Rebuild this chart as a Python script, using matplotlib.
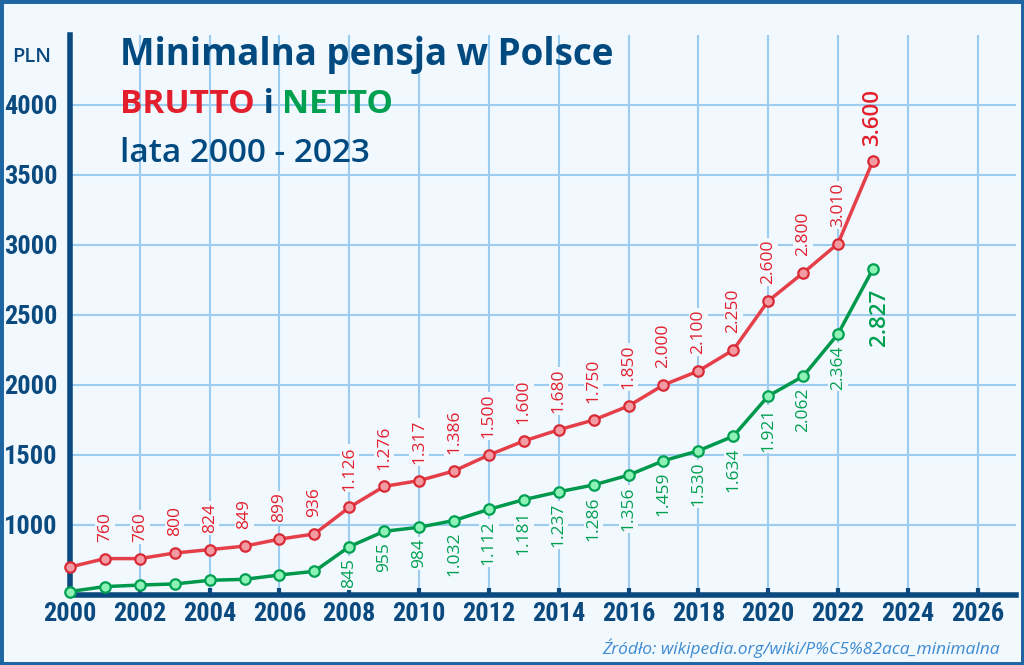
import matplotlib
matplotlib.use("Agg")
import matplotlib.pyplot as plt
from matplotlib import font_manager
from matplotlib.patches import Rectangle

years = list(range(2000, 2024))
brutto = [700, 760, 760, 800, 824, 849, 899, 936, 1126, 1276, 1317, 1386,
          1500, 1600, 1680, 1750, 1850, 2000, 2100, 2250, 2600, 2800, 3010, 3600]
# 2000-2007 netto values (no labels)
netto = [525, 560, 571, 579, 605, 612, 643, 669, 845, 955, 984, 1032,
         1112, 1181, 1237, 1286, 1356, 1459, 1530, 1634, 1921, 2062, 2364, 2827]
xticks = list(range(2000, 2027, 2))
yticks = [1000, 1500, 2000, 2500, 3000, 3500, 4000]

BG = "#F1F8FE"
NAVY = "#0B4A7E"
GRID = "#9CCCF0"
RED = "#E5404A"
GREEN = "#00994C"
SANS = ["Open Sans", "DejaVu Sans"]

# pick a narrow font for tick labels if there is one
fonts = font_manager.fontManager.ttflist
names = {f.name for f in fonts}
tick_font = dict(family=["Roboto", "DejaVu Sans"], weight="bold", fontsize=16)
if "Liberation Sans Narrow" in names:
    tick_font = dict(family=["Liberation Sans Narrow"], weight="bold", fontsize=19)
elif "Roboto Condensed" in names:
    tick_font = dict(family=["Roboto Condensed"], weight="bold", fontsize=19)
elif any(f.name == "DejaVu Sans" and f.stretch == "condensed" for f in fonts):
    tick_font = dict(family=["DejaVu Sans"], stretch="condensed", weight="bold",
                     fontsize=17)


def fmt(v):
    return f"{v:,}".replace(",", ".")


fig = plt.figure(figsize=(10.24, 6.65), dpi=100, facecolor=BG)
ax = fig.add_axes([70 / 1024, 1 - 595 / 665, (1016 - 70) / 1024, (595 - 35) / 665])
ax.set_facecolor(BG)
ax.set_xlim(2000, 2027.1)
ax.set_ylim(500, 4500)

ax.set_xticks(xticks)
ax.set_yticks(yticks)
ax.set_xticklabels([str(x) for x in xticks], color=NAVY, **tick_font)
ax.set_yticklabels([str(y) for y in yticks], color=NAVY, **tick_font)
ax.tick_params(axis="x", direction="in", length=5, width=3, color=NAVY, pad=5)
ax.tick_params(axis="y", length=0, pad=9)
ax.grid(True, color=GRID, linewidth=1.5, zorder=0)
ax.set_axisbelow(True)

for side in ["top", "right"]:
    ax.spines[side].set_visible(False)
for side in ["left", "bottom"]:
    ax.spines[side].set_color(NAVY)
    ax.spines[side].set_linewidth(4)

ax.plot(years, brutto, color=RED, linewidth=2.5, marker="o", markersize=7.5,
        markerfacecolor="#F29BA3", markeredgecolor="#D92B36", markeredgewidth=1.6,
        zorder=4, clip_on=False)
ax.plot(years, netto, color=GREEN, linewidth=2.5, marker="o", markersize=7.5,
        markerfacecolor="#8EF2B6", markeredgecolor="#00A052", markeredgewidth=1.6,
        zorder=4, clip_on=False)

# labels sit under the lines but above the grid, with a bg box that cuts the grid
box = dict(boxstyle="square,pad=0.1", fc=BG, ec="none")
for x, v in zip(years, brutto):
    if x == 2000:
        continue
    if x == 2023:
        ax.annotate(fmt(v), (x, v), xytext=(0, 11), textcoords="offset points",
                    rotation=90, ha="center", va="bottom", color="#E3202D",
                    fontsize=16, weight="semibold", family=SANS, zorder=3)
    else:
        ax.annotate(fmt(v), (x, v), xytext=(0, 12), textcoords="offset points",
                    rotation=90, ha="center", va="bottom", color="#E3202D",
                    fontsize=12.5, family=SANS, bbox=box, zorder=3)

for x, v in zip(years, netto):
    if x < 2008:
        continue
    if x == 2023:
        ax.annotate(fmt(v), (x, v), xytext=(5, -14), textcoords="offset points",
                    rotation=90, ha="center", va="top", color="#00A050",
                    fontsize=16, weight="semibold", family=SANS, zorder=3)
    else:
        ax.annotate(fmt(v), (x, v), xytext=(0, -8), textcoords="offset points",
                    rotation=90, ha="center", va="top", color="#00A050",
                    fontsize=12.5, family=SANS, bbox=box, zorder=3)

# title block
fig.text(120 / 1024, 1 - 65 / 665, "Minimalna pensja w Polsce", family=SANS,
         weight="bold", fontsize=26.5, color="#004A80", va="baseline")
fig.canvas.draw()
r = fig.canvas.get_renderer()
x0 = 120
parts = [("BRUTTO", "#E31E2D"), (" i ", "#004A80"), ("NETTO", "#00A050")]
for txt, col in parts:
    t = fig.text(x0 / 1024, 1 - 113 / 665, txt, family=SANS, weight="bold",
                 fontsize=24, color=col, va="baseline")
    x0 += t.get_window_extent(r).width
fig.text(120 / 1024, 1 - 162 / 665, "lata 2000 - 2023", family=SANS,
         weight="semibold", fontsize=24, color="#004A80", va="baseline")

fig.text(12 / 1024, 1 - 57 / 665, "PLN", family=SANS, fontsize=14.5,
         color=NAVY, va="center", ha="left", weight="semibold")

fig.text(1000 / 1024, 1 - 648 / 665,
         "Źródło: wikipedia.org/wiki/P%C5%82aca_minimalna", family=SANS,
         style="italic", fontsize=12.5, color="#3D8AD0", ha="right", va="center")

fig.patches.append(Rectangle((0, 0), 1, 1, transform=fig.transFigure,
                             fill=False, edgecolor="#1D65A3", linewidth=5))

fig.savefig("out.png", dpi=100, facecolor=BG)
